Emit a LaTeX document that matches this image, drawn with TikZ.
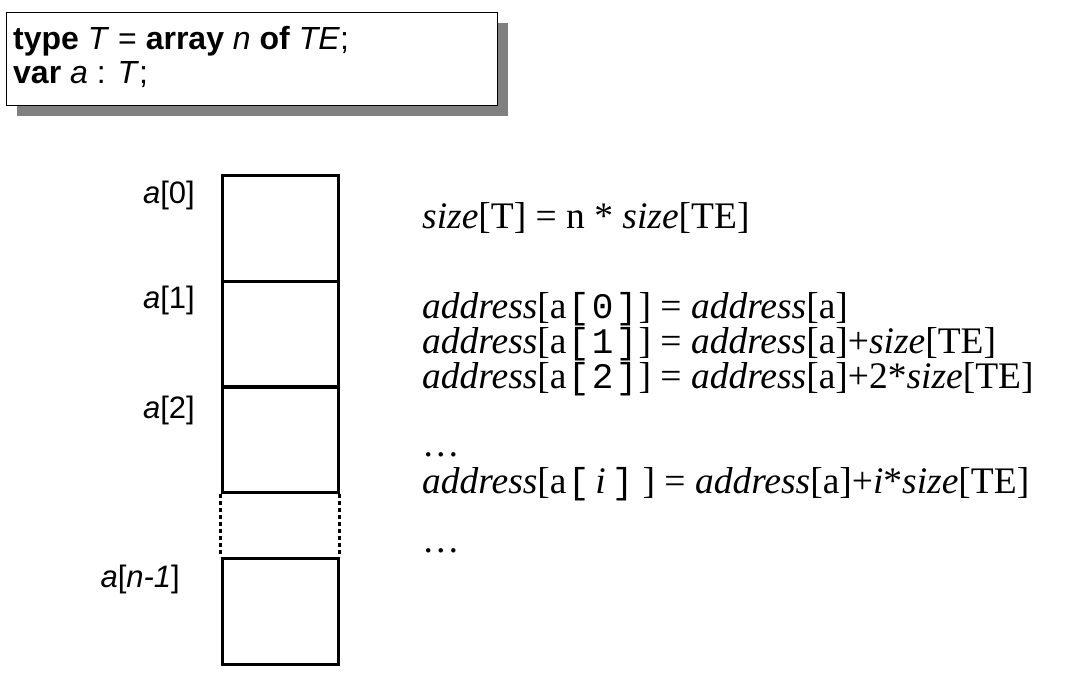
\documentclass[tikz,border=0pt]{standalone}
\usepackage{fontspec}
\setmainfont{Liberation Serif}
\setsansfont{Liberation Sans}
\setmonofont{Liberation Mono}
\usetikzlibrary{shadows}
\definecolor{shadowgray}{RGB}{128,128,128}
\tikzset{
  declbox/.style={draw=black, line width=1.3pt, fill=white, inner sep=0pt,
    minimum width=491pt, minimum height=93pt,
    drop shadow={shadow xshift=10pt, shadow yshift=-10pt, fill=shadowgray, opacity=1}},
  decltext/.style={inner sep=0pt, anchor=base west, font=\sffamily\fontsize{32}{38}\selectfont},
  cell/.style={draw=black, line width=3pt, inner sep=0pt, minimum width=116pt, minimum height=106pt},
  dotline/.style={line width=3pt, dash pattern=on 4pt off 3pt},
  lbl/.style={inner sep=0pt, anchor=base east, font=\sffamily\fontsize{31}{37}\selectfont},
  eq/.style={inner sep=0pt, anchor=base west, font=\rmfamily\fontsize{37.5}{42}\selectfont}
}
\newcommand{\mchar}[1]{\makebox[24pt][c]{\ttfamily\fontsize{36}{40}\selectfont #1}}
\begin{document}
\begin{tikzpicture}[x=1pt,y=-1pt]
\useasboundingbox (0,0) rectangle (1081,685);
% declaration box
\node[declbox, anchor=north west] (decl) at (6,12) {};
\node[decltext] (t1) at (13,50) {\textbf{type} \textit{T} = \textbf{array} \textit{n} \textbf{of} \textit{TE};};
\node[decltext] (t2) at (13,84) {\textbf{var} \textit{a} : \textit{T};};
% array cells
\node[cell] (c0) at (280,228) {};
\node[cell] (c1) at (280,334) {};
\node[cell] (c2) at (280,439.5) {};
\node[cell] (c3) at (280,611.5) {};
\draw[dotline] (c2.south west) -- (c3.north west);
\draw[dotline] (c2.south east) -- (c3.north east);
% labels
\node[lbl] (l0) at (195,203) {\textit{a}[0]};
\node[lbl] (l1) at (195,308) {\textit{a}[1]};
\node[lbl] (l2) at (195,418) {\textit{a}[2]};
\node[lbl] (l3) at (180,587) {\textit{a}[\textit{n-1}]};
% formulas
\node[eq] (e0) at (422,228) {\textit{size}[T] = n * \textit{size}[TE]};
\node[eq] (e1) at (422,318) {\textit{address}[a\mchar{[}\mchar{0}\mchar{]}] = \textit{address}[a]};
\node[eq] (e2) at (422,353) {\textit{address}[a\mchar{[}\mchar{1}\mchar{]}] = \textit{address}[a]+\textit{size}[TE]};
\node[eq] (e3) at (422,388) {\textit{address}[a\mchar{[}\mchar{2}\mchar{]}] = \textit{address}[a]+2*\textit{size}[TE]};
\node[eq] (e4) at (422,456) {\dots};
\node[eq] (e5) at (422,493) {\textit{address}[a\mchar{[}\makebox[20pt]{\textit{i}}\mchar{]}\hspace{8pt}] = \textit{address}[a]+\textit{i}*\textit{size}[TE]};
\node[eq] (e6) at (422,552) {\dots};
\end{tikzpicture}
\end{document}
